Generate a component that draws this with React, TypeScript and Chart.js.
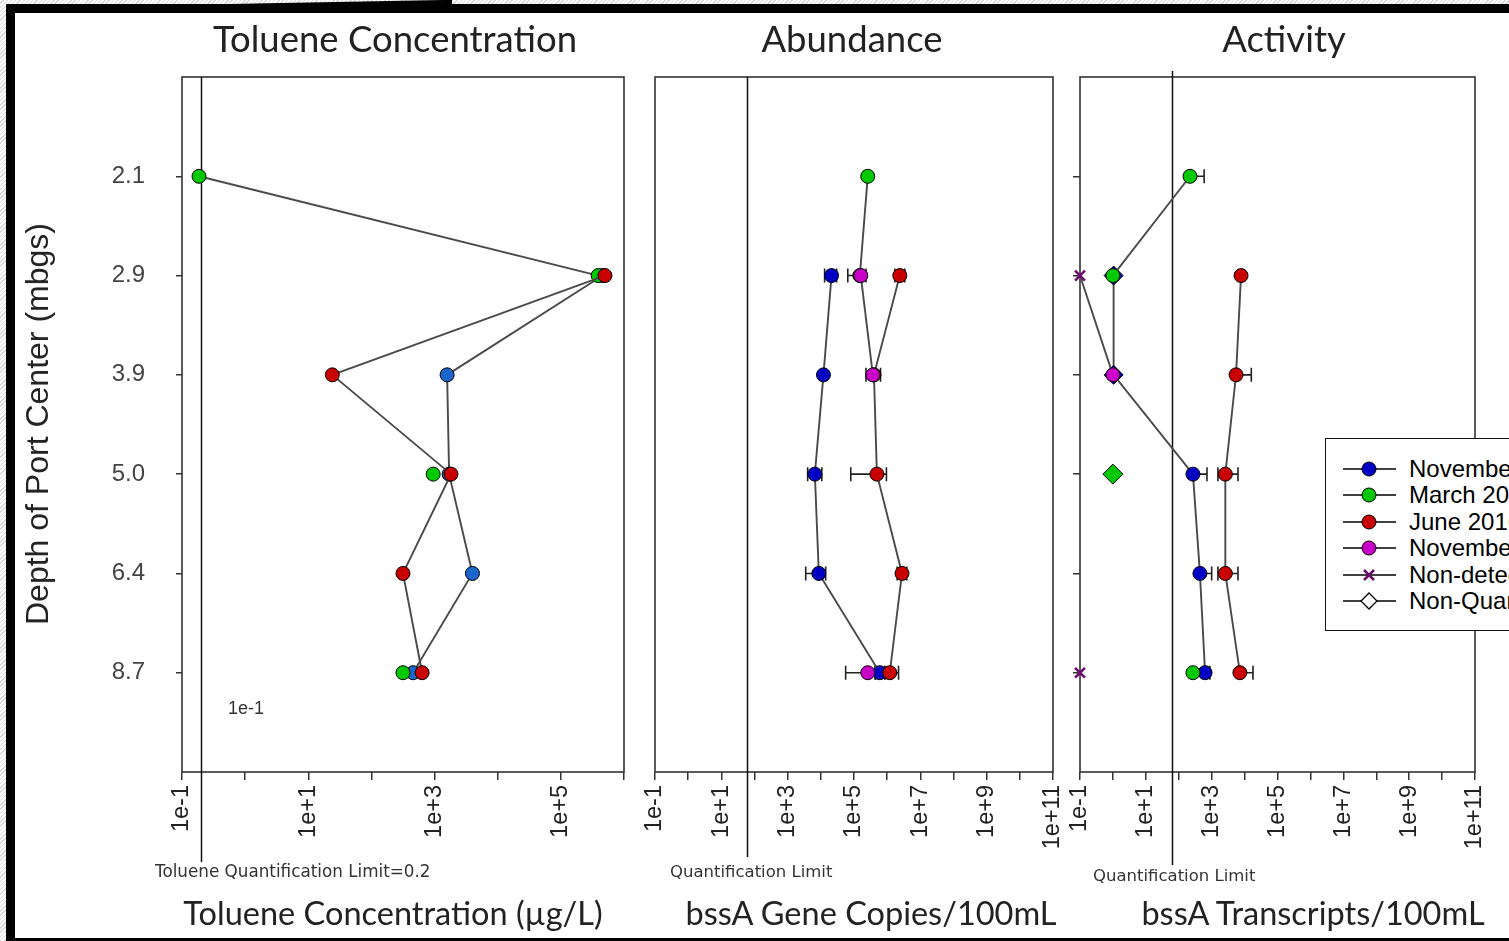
import React, { useEffect, useRef } from "react";
import { Chart, registerables } from "chart.js";
Chart.register(...registerables);

// ---------- data ----------
const depthLabels = ["2.1", "2.9", "3.9", "5.0", "6.4", "8.7"];
const depthPositions = [1, 2, 3, 4, 5, 6];

const seriesNames = ["November 2015", "March 2016", "June 2016", "November 2016", "Non-detect", "Non-Quantifiable"];

// Toluene concentration (ug/L)
const tolNov15 = [null, 4.6e5, 1580, 1700, 3980, 457];
const tolMar16 = [0.186, 3.9e5, null, 950, null, 316];
const tolJun16 = [null, 5.0e5, 24, 1820, 316, 635];

// Abundance (bssA gene copies / 100 mL)
const abNov15 = [null, 2.1e4, 1.2e4, 6.6e3, 8.7e3, 6.0e5];
const abMar16 = [2.6e5, 1.5e5, null, null, null, null];
const abJun16 = [null, 2.4e6, 4.0e5, 4.9e5, 2.8e6, 1.2e6];
const abNov16 = [null, 1.6e5, 3.7e5, null, null, 2.6e5];
const abNov15Lo = [null, 1.3e4, null, 4.0e3, 3.5e3, 4.3e5];
const abNov15Hi = [null, 3.0e4, null, 1.07e4, 1.4e4, 8.5e5];
const abJun16Lo = [null, 1.7e6, null, 8.0e4, 2.0e6, 8.5e5];
const abJun16Hi = [null, 3.4e6, null, 9.5e5, 3.9e6, 2.2e6];
const abNov16Lo = [null, 6.5e4, 2.3e5, null, null, 5.6e4];
const abNov16Hi = [null, 2.3e5, 6.3e5, null, null, 4.5e5];

// Activity (bssA transcripts / 100 mL)
const acNov15 = [null, 1.05, 1.05, 270, 440, 630];
const acMar16 = [220, 1, null, 1, null, 270];
const acJun16 = [null, 7.8e3, 5.5e3, 2.6e3, 2.6e3, 7.2e3];
const acNov16 = [null, 0.1, 1, null, null, 0.1];
const acNov15Style = ["circle", "rectRot", "rectRot", "circle", "circle", "circle"];
const acMar16Style = ["circle", "circle", "circle", "rectRot", "circle", "circle"];
const acNov16Style = ["circle", "crossRot", "circle", "circle", "circle", "crossRot"];
const acMar16Hi = [590, null, null, null, null, null];
const acNov15Hi = [null, null, null, 720, 1000, 880];
const acJun16Lo = [null, null, null, 1550, 1550, null];
const acJun16Hi = [null, null, 1.6e4, 6.3e3, 6.3e3, 1.8e4];

const tolTickValues = [0.1, 1, 10, 100, 1e3, 1e4, 1e5, 1e6];
const tolTickLabels = ["1e-1", "", "1e+1", "", "1e+3", "", "1e+5", ""];
const bssTickValues = [0.1, 1, 10, 100, 1e3, 1e4, 1e5, 1e6, 1e7, 1e8, 1e9, 1e10, 1e11];
const bssTickLabels = ["1e-1", "", "1e+1", "", "1e+3", "", "1e+5", "", "1e+7", "", "1e+9", "", "1e+11"];

const tolQL = 0.2;
const abQL = 60;
const acQL = 62;

// ---------- styles ----------
const C_BLUE_LIGHT = "#1b66cc";
const C_BLUE = "#0000c4";
const C_GREEN = "#00c800";
const C_RED = "#c80000";
const C_MAGENTA = "#c800c8";
const C_PURPLE = "#6a0a6a";
const ARIAL = "'Liberation Sans', Arial, sans-serif";
const SMALL_FONT = "'DejaVu Sans', Verdana, sans-serif";
const TITLE_FONT = "Lato, 'Open Sans', sans-serif";
const H = 941;
const PAD_R = 40;

function ds(values, color, order, extra = {}) {
  return {
    data: values.map((v, i) => ({ x: v, y: depthPositions[i] })),
    order,
    showLine: true,
    spanGaps: false,
    borderColor: "#4a4a4a",
    borderWidth: 1.9,
    pointBackgroundColor: color,
    pointBorderColor: "#000",
    pointBorderWidth: 1,
    pointRadius: 7,
    pointStyle: "circle",
    clip: false,
    ...extra,
  };
}

const framePlugin = {
  id: "frame",
  beforeDatasetsDraw(chart) {
    const { ctx, chartArea: a } = chart;
    ctx.save();
    ctx.strokeStyle = "#333";
    ctx.lineWidth = 1.6;
    ctx.strokeRect(a.left, a.top, a.right - a.left, a.bottom - a.top);
    ctx.restore();
  },
};

function qlPlugin(value, topExt, bottomY) {
  return {
    id: "qlLine",
    beforeDatasetsDraw(chart) {
      const { ctx, chartArea: a, scales } = chart;
      const px = Math.round(scales.x.getPixelForValue(value)) + 0.5;
      ctx.save();
      ctx.strokeStyle = "#111";
      ctx.lineWidth = 1.5;
      ctx.beginPath();
      ctx.moveTo(px, a.top - topExt);
      ctx.lineTo(px, bottomY);
      ctx.stroke();
      ctx.restore();
    },
  };
}

const errorBarPlugin = {
  id: "errorBars",
  beforeDatasetsDraw(chart) {
    const { ctx, scales } = chart;
    const xs = scales.x, ys = scales.y;
    ctx.save();
    ctx.strokeStyle = "#222";
    ctx.lineWidth = 1.6;
    chart.data.datasets.forEach((d) => {
      const lo = d.errLo, hi = d.errHi;
      if (!lo && !hi) return;
      d.data.forEach((p, i) => {
        if (p.x == null) return;
        const py = ys.getPixelForValue(p.y);
        const px = xs.getPixelForValue(p.x);
        const l = lo && lo[i] != null ? xs.getPixelForValue(lo[i]) : null;
        const h = hi && hi[i] != null ? xs.getPixelForValue(hi[i]) : null;
        if (l == null && h == null) return;
        ctx.beginPath();
        ctx.moveTo(l ?? px, py);
        ctx.lineTo(h ?? px, py);
        if (l != null) { ctx.moveTo(l, py - 7); ctx.lineTo(l, py + 7); }
        if (h != null) { ctx.moveTo(h, py - 7); ctx.lineTo(h, py + 7); }
        ctx.stroke();
      });
    });
    ctx.restore();
  },
};

function xScale(max, tickValues, tickLabels) {
  return {
    type: "logarithmic",
    min: 0.1,
    max,
    afterBuildTicks: (s) => { s.ticks = tickValues.map((v) => ({ value: v })); },
    afterFit: (s) => { s.height = H - 772; },
    ticks: {
      autoSkip: false,
      minRotation: 90,
      maxRotation: 90,
      padding: 5,
      color: "#222",
      font: { family: ARIAL, size: 23.5 },
      callback: (_v, i) => tickLabels[i],
    },
    grid: { drawOnChartArea: false, drawTicks: true, tickLength: 8, color: "#333", lineWidth: 1.5 },
    border: { display: false },
  };
}

function yScale(kind, width) {
  const base = {
    type: "linear",
    reverse: true,
    min: 0,
    max: 7,
    afterBuildTicks: (s) => { s.ticks = depthPositions.map((v) => ({ value: v })); },
    afterFit: (s) => { s.width = width; },
    border: { display: false },
  };
  if (kind === "labels") {
    return {
      ...base,
      ticks: { padding: 31, color: "#444", font: { family: ARIAL, size: 24 }, callback: (_v, i) => depthLabels[i] },
      grid: { drawOnChartArea: false, tickLength: 6, color: "#333", lineWidth: 1.5 },
    };
  }
  if (kind === "ticks") {
    return {
      ...base,
      ticks: { display: false },
      grid: { drawOnChartArea: false, tickLength: 7, color: "#333", lineWidth: 1.5 },
    };
  }
  return { ...base, display: false };
}

function makeConfig(datasets, x, y, padding, plugins) {
  return {
    type: "scatter",
    data: { datasets },
    options: {
      animation: false,
      responsive: false,
      events: [],
      layout: { padding },
      plugins: { legend: { display: false }, tooltip: { enabled: false }, title: { display: false } },
      scales: { x, y },
    },
    plugins,
  };
}

function tolConfig() {
  return makeConfig(
    [
      ds(tolNov15, C_BLUE_LIGHT, 4),
      ds(tolMar16, C_GREEN, 3),
      ds(tolJun16, C_RED, 2),
    ],
    xScale(1e6, tolTickValues, tolTickLabels),
    yScale("labels", 182),
    { top: 77, left: 0, right: PAD_R, bottom: 0 },
    [framePlugin, qlPlugin(tolQL, 0, 862), errorBarPlugin]
  );
}

function abConfig() {
  return makeConfig(
    [
      ds(abNov15, C_BLUE, 4, { errLo: abNov15Lo, errHi: abNov15Hi }),
      ds(abMar16, C_GREEN, 3),
      ds(abJun16, C_RED, 2, { errLo: abJun16Lo, errHi: abJun16Hi }),
      ds(abNov16, C_MAGENTA, 1, { errLo: abNov16Lo, errHi: abNov16Hi }),
    ],
    xScale(1e11, bssTickValues, bssTickLabels),
    yScale("none", 0),
    { top: 77, left: 25, right: PAD_R, bottom: 0 },
    [framePlugin, qlPlugin(abQL, 0, 857), errorBarPlugin]
  );
}

function acConfig() {
  return makeConfig(
    [
      ds(acNov15, C_BLUE, 4, { pointStyle: acNov15Style, pointRadius: acNov15Style.map((s) => (s === "rectRot" ? 9.5 : 7)), errHi: acNov15Hi }),
      ds(acMar16, C_GREEN, 3, { pointStyle: acMar16Style, pointRadius: acMar16Style.map((s) => (s === "rectRot" ? 10 : 7)), errHi: acMar16Hi }),
      ds(acJun16, C_RED, 2, { errLo: acJun16Lo, errHi: acJun16Hi }),
      ds(acNov16, C_MAGENTA, 1, {
        pointStyle: acNov16Style,
        pointBorderColor: acNov16Style.map((s) => (s === "crossRot" ? C_PURPLE : "#000")),
        pointBorderWidth: acNov16Style.map((s) => (s === "crossRot" ? 2.5 : 1)),
      }),
    ],
    xScale(1e11, bssTickValues, bssTickLabels),
    yScale("ticks", 25),
    { top: 77, left: 0, right: 34, bottom: 0 },
    [framePlugin, qlPlugin(acQL, 6, 865), errorBarPlugin]
  );
}

function Panel({ left, width, build }) {
  const ref = useRef(null);
  useEffect(() => {
    const chart = new Chart(ref.current, build());
    return () => chart.destroy();
  }, []);
  return (
    <canvas
      ref={ref}
      width={width}
      height={H}
      style={{ position: "absolute", left, top: 0, width, height: H }}
    />
  );
}

function Text({ x, y, size, family, children, anchor = "center", color = "#222", rotate = 0 }) {
  const tx = anchor === "center" ? "-50%" : "0";
  return (
    <div
      style={{
        position: "absolute",
        left: x,
        top: y,
        transform: `translate(${tx}, -50%) rotate(${rotate}deg)`,
        transformOrigin: anchor === "center" ? "50% 50%" : "0 50%",
        fontFamily: family,
        fontSize: size,
        lineHeight: 1,
        whiteSpace: "nowrap",
        color,
      }}
    >
      {children}
    </div>
  );
}

const legendColors = [C_BLUE, C_GREEN, C_RED, C_MAGENTA];

function LegendMarker({ i }) {
  return (
    <svg width={56} height={20} style={{ position: "absolute", left: 0, top: -10 }}>
      <line x1={1} y1={10} x2={54} y2={10} stroke="#000" strokeWidth={1.5} />
      {i < 4 && <circle cx={27} cy={10} r={7} fill={legendColors[i]} stroke="#000" strokeWidth={1} />}
      {i === 4 && (
        <g stroke={C_PURPLE} strokeWidth={2.5}>
          <line x1={22} y1={5} x2={32} y2={15} />
          <line x1={22} y1={15} x2={32} y2={5} />
        </g>
      )}
      {i === 5 && <polygon points="27,2 35,10 27,18 19,10" fill="#fff" stroke="#000" strokeWidth={1.3} />}
    </svg>
  );
}

function Legend() {
  return (
    <div
      style={{
        position: "absolute",
        left: 1325,
        top: 438,
        width: 260,
        height: 191,
        border: "1.5px solid #111",
        background: "#fff",
      }}
    >
      {seriesNames.map((name, i) => (
        <div key={name} style={{ position: "absolute", left: 16, top: 30 + i * 26.4, height: 0 }}>
          <LegendMarker i={i} />
          <div
            style={{
              position: "absolute",
              left: 67,
              top: -13,
              fontFamily: ARIAL,
              fontSize: 24,
              lineHeight: "26px",
              whiteSpace: "nowrap",
              color: "#000",
            }}
          >
            {name}
          </div>
        </div>
      ))}
    </div>
  );
}

export default function App() {
  return (
    <div
      style={{
        position: "fixed",
        left: 0,
        top: 0,
        width: 1509,
        height: H,
        overflow: "hidden",
        background: "repeating-linear-gradient(135deg, #ffffff 0px, #ffffff 2px, #d6d6d6 2px, #d6d6d6 3px)",
      }}
    >
      <div
        style={{
          position: "absolute",
          left: 6,
          top: 4,
          width: 1540,
          height: H - 4,
          boxSizing: "border-box",
          borderLeft: "9px solid #000",
          borderTop: "9px solid #000",
          borderBottom: "3px solid #000",
          background: "#fff",
        }}
      />
      <svg width={1509} height={12} style={{ position: "absolute", left: 0, top: 0 }}>
        <polygon points="230,4 443,0 452,0 452,4" fill="#000" />
      </svg>

      <Panel left={0} width={624 + PAD_R} build={tolConfig} />
      <Panel left={630} width={1053 + PAD_R - 630} build={abConfig} />
      <Panel left={1055} width={454} build={acConfig} />

      <Text x={395} y={38} size={36.5} family={TITLE_FONT}>Toluene Concentration</Text>
      <Text x={852} y={38} size={36.5} family={TITLE_FONT}>Abundance</Text>
      <Text x={1284} y={38} size={36.5} family={TITLE_FONT}>Activity</Text>

      <Text x={393} y={913} size={32.5} family={TITLE_FONT}>Toluene Concentration (µg/L)</Text>
      <Text x={871} y={913} size={32.5} family={TITLE_FONT}>bssA Gene Copies/100mL</Text>
      <Text x={1313} y={913} size={32.5} family={TITLE_FONT}>bssA Transcripts/100mL</Text>

      <Text x={155} y={871} size={16.8} family={SMALL_FONT} anchor="left" color="#333">Toluene Quantification Limit=0.2</Text>
      <Text x={670} y={872} size={16.5} family={SMALL_FONT} anchor="left" color="#333">Quantification Limit</Text>
      <Text x={1093} y={876} size={16.5} family={SMALL_FONT} anchor="left" color="#333">Quantification Limit</Text>

      <Text x={228} y={708} size={18} family={ARIAL} anchor="left" color="#333">1e-1</Text>

      <Text x={37} y={424} size={32} family={ARIAL} rotate={-90}>Depth of Port Center (mbgs)</Text>

      <Legend />
    </div>
  );
}
